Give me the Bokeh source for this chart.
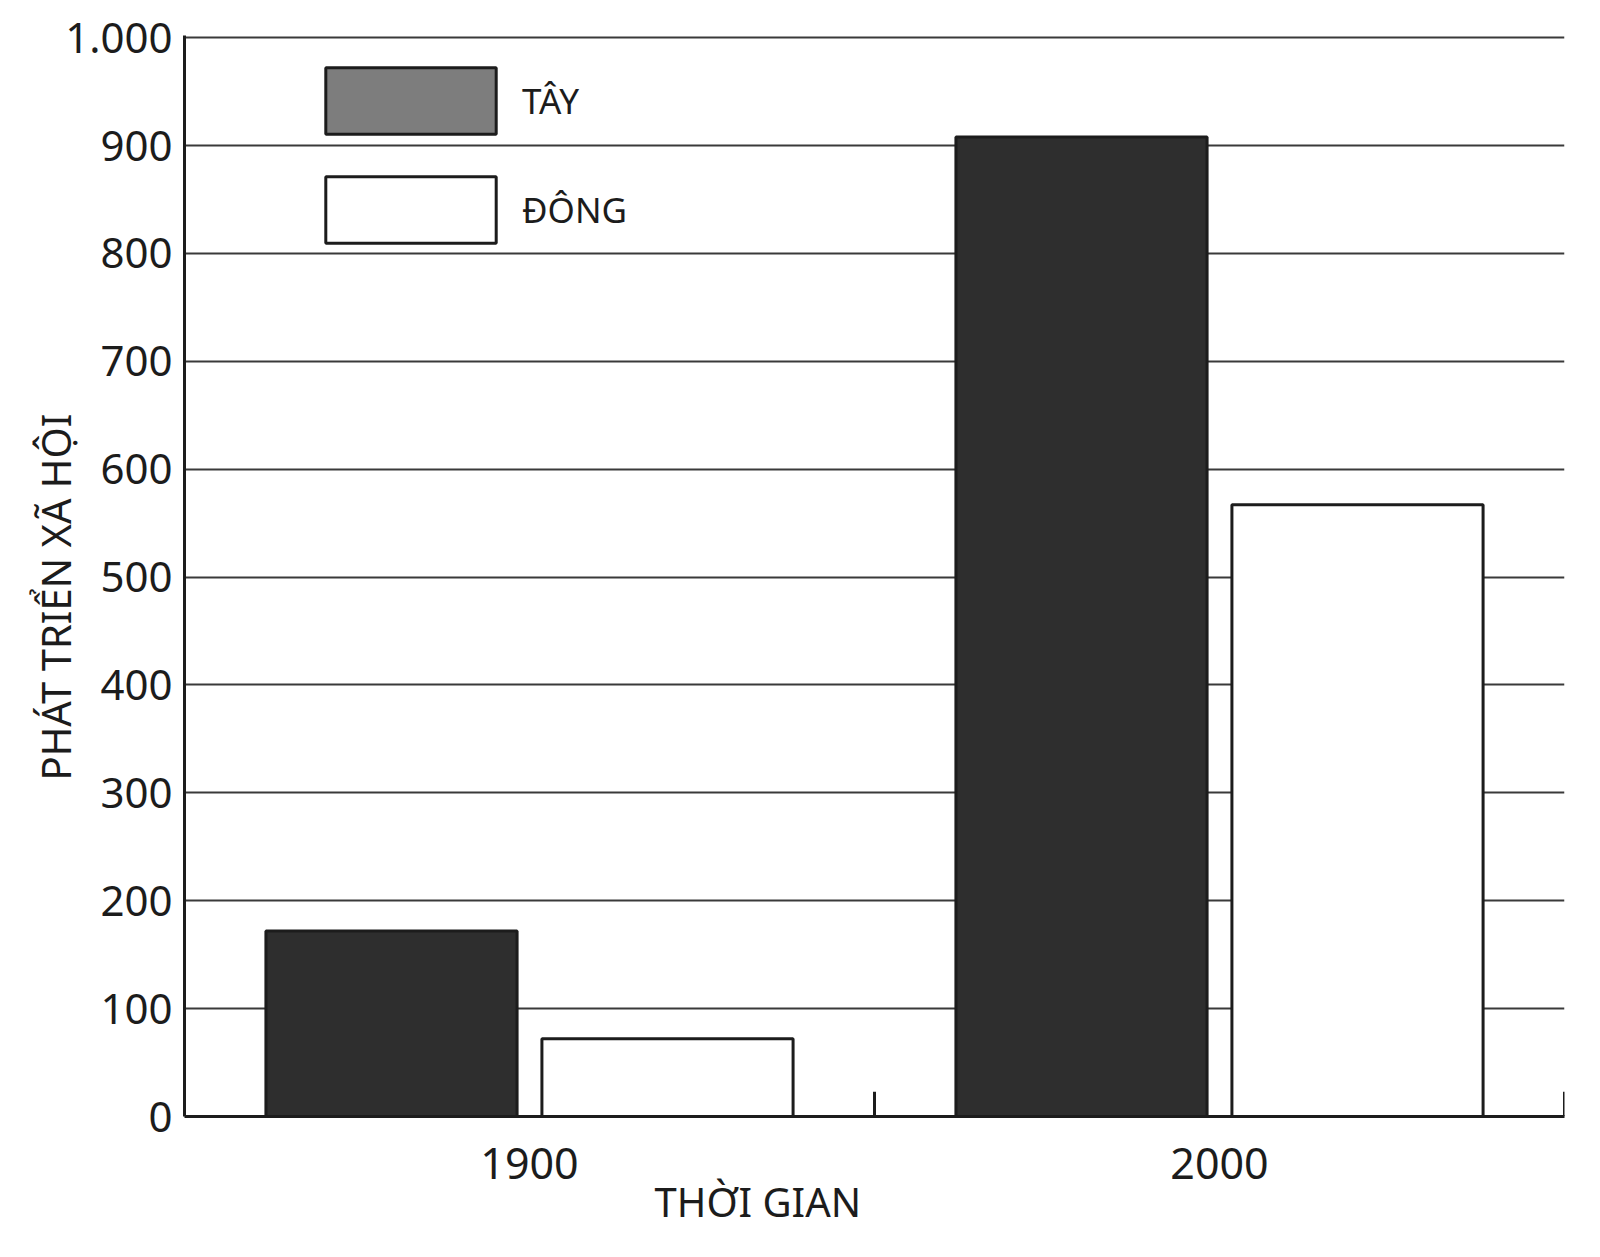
from bokeh.plotting import figure
from bokeh.models import (ColumnDataSource, FactorRange, Range1d, FixedTicker,
                          Legend, LegendItem, Title)
from bokeh.transform import dodge
from bokeh.embed import file_html
from bokeh.resources import INLINE

# ---- data ----
years = ["1900", "2000"]
tay = [172, 908]
dong = [72, 567]
y_ticks = [0, 100, 200, 300, 400, 500, 600, 700, 800, 900, 1000]
y_tick_labels = {1000: "1.000"}
series_names = ["TÂY", "ĐÔNG"]
x_title = "THỜI GIAN"
y_title = "PHÁT TRIỂN XÃ HỘI"

FONT = "Noto Sans"
INK = "#1c1c1c"

src = ColumnDataSource(dict(year=years, tay=tay, dong=dong))

p = figure(x_range=FactorRange(factors=years), y_range=Range1d(0, 1002),
           frame_width=1380, frame_height=1081,
           min_border_left=184, min_border_right=20,
           min_border_top=35, min_border_bottom=120,
           output_backend="svg", toolbar_location=None,
           background_fill_color="white", border_fill_color="white")
p.outline_line_color = None

r_tay = p.vbar(x=dodge("year", -0.2, range=p.x_range), top="tay", width=0.364,
               source=src, fill_color="#2e2e2e", line_color=INK, line_width=3)
r_dong = p.vbar(x=dodge("year", 0.2, range=p.x_range), top="dong", width=0.364,
                source=src, fill_color="white", line_color=INK, line_width=3)

# group separator ticks
p.segment(x0=dodge("year", 0.5, range=p.x_range), y0=0,
          x1=dodge("year", 0.5, range=p.x_range), y1=23,
          source=src, line_color=INK, line_width=3)

# legend swatch renderer (lighter grey as in the printed key), hidden in plot
r_leg_tay = p.vbar(x=dodge("year", -0.2, range=p.x_range), top="tay", width=0.364,
                   source=src, fill_color="#7d7d7d", line_color=INK, line_width=3,
                   visible=False)

legend = Legend(items=[LegendItem(label=series_names[0], renderers=[r_leg_tay]),
                       LegendItem(label=series_names[1], renderers=[r_dong])],
                location=(120, 865), margin=0, padding=0,
                glyph_width=213, glyph_height=83, spacing=26,
                label_standoff=5, label_text_font=FONT,
                label_text_font_size="35px", label_text_color=INK,
                border_line_color=None, background_fill_alpha=0,
                inactive_fill_alpha=0)
p.add_layout(legend)

# grid
p.xgrid.grid_line_color = None
p.ygrid.ticker = FixedTicker(ticks=y_ticks)
p.ygrid.grid_line_color = "#3a3a3a"
p.ygrid.grid_line_width = 2

# y axis
p.yaxis.ticker = FixedTicker(ticks=y_ticks)
p.yaxis.major_label_overrides = y_tick_labels
p.yaxis.major_label_text_font = FONT
p.yaxis.major_label_text_font_size = "42px"
p.yaxis.major_label_text_color = INK
p.yaxis.major_label_standoff = 12
p.yaxis.major_tick_line_color = None
p.yaxis.major_tick_out = 0
p.yaxis.minor_tick_line_color = None
p.yaxis.axis_line_color = INK
p.yaxis.axis_line_width = 3

p.add_layout(Title(text=y_title, align="left", offset=336, standoff=-40,
                   text_font=FONT, text_font_size="40px",
                   text_font_style="normal", text_color=INK), "left")

# x axis
p.xaxis.major_label_text_font = FONT
p.xaxis.major_label_text_font_size = "43px"
p.xaxis.major_label_text_color = INK
p.xaxis.major_label_standoff = 31
p.xaxis.major_tick_line_color = None
p.xaxis.major_tick_out = 0
p.xaxis.axis_line_color = INK
p.xaxis.axis_line_width = 3

p.add_layout(Title(text=x_title, align="left", offset=470, standoff=-19,
                   text_font=FONT, text_font_size="40px",
                   text_font_style="normal", text_color=INK), "below")

open("out.html", "w").write(file_html(p, INLINE))
